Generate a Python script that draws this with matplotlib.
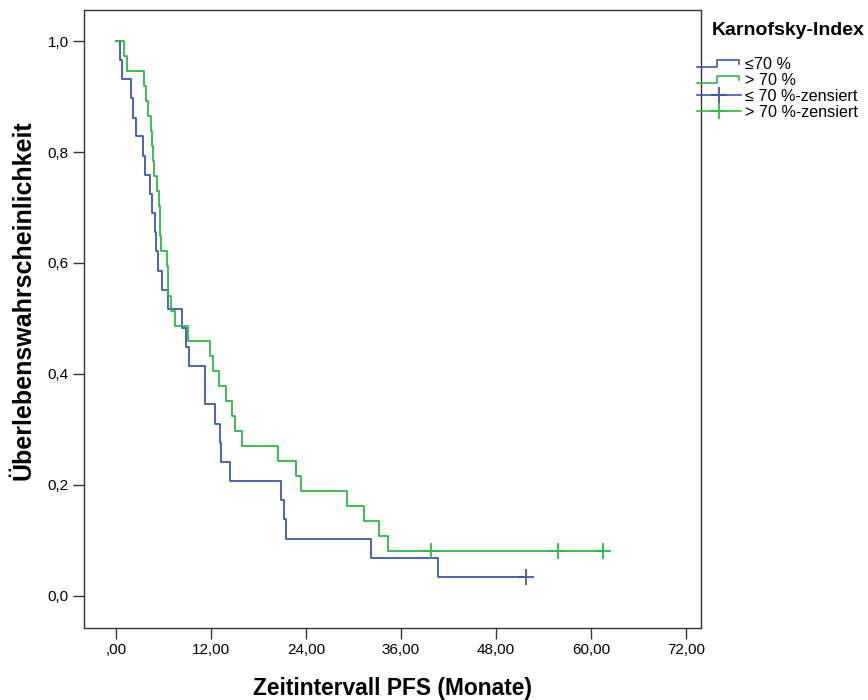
import matplotlib
matplotlib.use("Agg")
import matplotlib.pyplot as plt
from matplotlib.lines import Line2D
from matplotlib.legend_handler import HandlerBase

plt.rcParams['font.family'] = ['Liberation Sans', 'DejaVu Sans']

# Kaplan-Meier steps (event time in months, survival after the step)
low_times = [0.5, 0.8, 1.85, 2.2, 2.5, 3.45, 3.6, 4.3, 4.5, 4.9, 5.0, 5.35, 5.85, 6.6,
             8.3, 8.85, 9.25, 11.2, 11.3, 12.5, 13.2, 13.3, 14.4, 20.8, 21.25, 21.5,
             32.15, 40.7]
low_surv = [0.966, 0.931, 0.897, 0.862, 0.828, 0.793, 0.759, 0.724, 0.690, 0.655, 0.621,
            0.586, 0.552, 0.517, 0.483, 0.448, 0.414, 0.379, 0.345, 0.310, 0.276, 0.241,
            0.207, 0.172, 0.138, 0.103, 0.069, 0.034]
low_cens_t = [51.85]
low_cens_s = [0.034]

high_times = [1.0, 1.35, 3.55, 3.8, 4.1, 4.4, 4.55, 4.7, 4.85, 5.2, 5.45, 5.5, 5.55, 5.65,
              6.5, 6.55, 6.6, 6.9, 7.45, 9.1, 11.9, 12.3, 13.05, 13.9, 14.7, 15.0, 15.9,
              20.5, 22.8, 23.35, 29.2, 31.35, 33.2, 34.3]
high_surv = [0.973, 0.946, 0.919, 0.892, 0.865, 0.838, 0.811, 0.784, 0.757, 0.730, 0.703,
             0.676, 0.649, 0.622, 0.595, 0.568, 0.541, 0.514, 0.486, 0.459, 0.432, 0.405,
             0.378, 0.351, 0.324, 0.297, 0.270, 0.243, 0.216, 0.189, 0.162, 0.135, 0.108,
             0.081]
high_cens_t = [39.85, 55.8, 61.5]
high_cens_s = [0.081, 0.081, 0.081]

x_ticks = [0, 12, 24, 36, 48, 60, 72]
x_labels = [",00", "12,00", "24,00", "36,00", "48,00", "60,00", "72,00"]
y_ticks = [0.0, 0.2, 0.4, 0.6, 0.8, 1.0]
y_labels = ["0,0", "0,2", "0,4", "0,6", "0,8", "1,0"]

blue = "#3e58ac"
green = "#2eb848"


class StepHandler(HandlerBase):
    def create_artists(self, legend, orig_handle, xdescent, ydescent, width, height, fontsize, trans):
        x0, w = -xdescent, width
        y0, h = -ydescent, height
        xs = [x0, x0 + 0.45 * w, x0 + 0.45 * w, x0 + 0.95 * w, x0 + 0.95 * w]
        ys = [y0 + 0.2 * h, y0 + 0.2 * h, y0 + 0.85 * h, y0 + 0.85 * h, y0 + 0.45 * h]
        line = Line2D(xs, ys, color=orig_handle.get_color(), lw=1.2)
        line.set_transform(trans)
        return [line]


fig = plt.figure(figsize=(8.68, 7.0), dpi=100)
ax = fig.add_axes([0.0968, 0.1029, 0.7108, 0.8828])


def km_xy(times, surv, end_t):
    xs = [0.0] + list(times) + [end_t]
    ys = [1.0] + list(surv) + [surv[-1]]
    return xs, ys


lx, ly = km_xy(low_times, low_surv, low_cens_t[-1])
hx, hy = km_xy(high_times, high_surv, high_cens_t[-1])
ax.step(lx, ly, where='post', color=blue, lw=1.3)
ax.step(hx, hy, where='post', color=green, lw=1.3)
ax.plot(low_cens_t, low_cens_s, ls='none', marker='+', ms=11, mew=1.3, color=blue)
ax.plot(high_cens_t, high_cens_s, ls='none', marker='+', ms=11, mew=1.3, color=green)

ax.set_xlim(-4.04, 73.9)
ax.set_ylim(-0.058, 1.056)
ax.set_xticks(x_ticks)
ax.set_xticklabels(x_labels, fontsize=11)
ax.set_yticks(y_ticks)
ax.set_yticklabels(y_labels, fontsize=11)
ax.tick_params(length=8, width=1, color="#333333", pad=3)
for s in ax.spines.values():
    s.set_color("#333333")
    s.set_linewidth(1)

ax.set_xlabel("Zeitintervall PFS (Monate)", fontsize=16.4, fontweight='bold', labelpad=14)
ax.set_ylabel("Überlebenswahrscheinlichkeit", fontsize=18, fontweight='bold')
ax.yaxis.set_label_coords(-0.079, 0.531)

fig.text(0.8203, 0.957, "Karnofsky-Index", fontsize=14, fontweight='bold', va='center', ha='left')

handles = [
    Line2D([], [], color=blue),
    Line2D([], [], color=green),
    Line2D([], [], color=blue, marker='+', ms=11, mew=1.3, lw=1.2),
    Line2D([], [], color=green, marker='+', ms=11, mew=1.3, lw=1.2),
]
labels = ["≤70 %", "> 70 %", "≤ 70 %-zensiert", "> 70 %-zensiert"]
fig.legend(handles, labels, loc='upper left', bbox_to_anchor=(0.803, 0.918),
           frameon=False, fontsize=11.6, handlelength=2.75, handletextpad=0.25,
           labelspacing=0.05, borderaxespad=0, borderpad=0,
           handler_map={handles[0]: StepHandler(), handles[1]: StepHandler()})

fig.savefig("out.png", dpi=100)
